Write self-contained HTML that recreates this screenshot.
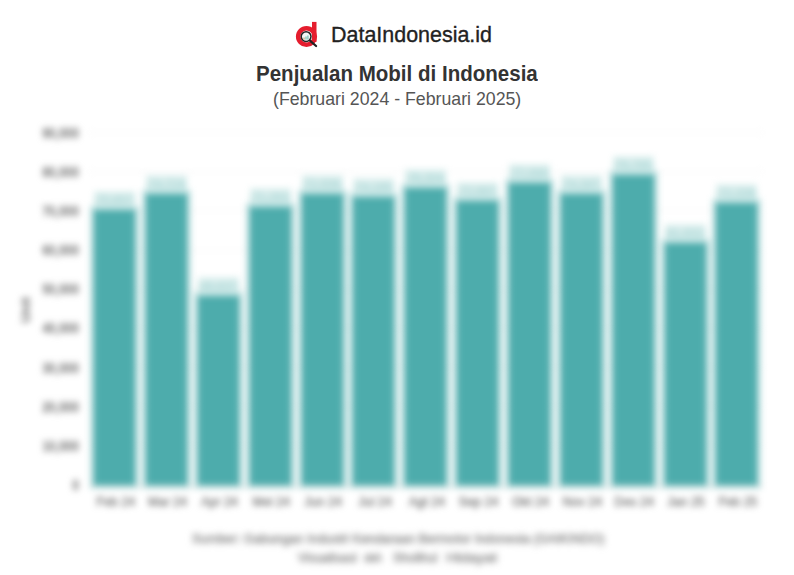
<!DOCTYPE html>
<html><head><meta charset="utf-8">
<style>
html,body{margin:0;padding:0;background:#fff;}
body{width:794px;height:575px;overflow:hidden;position:relative;font-family:"Liberation Sans",sans-serif;}
.t{position:absolute;white-space:nowrap;line-height:1;transform-origin:0 0;}
.brand{left:331.2px;top:23.5px;font-size:22.3px;color:#222;-webkit-text-stroke:0.35px #222;transform:scaleX(0.962);}
.title{left:255.8px;top:62.6px;font-size:21.2px;font-weight:bold;color:#333;transform:scaleX(0.969);}
.sub{left:272.9px;top:90px;font-size:18.5px;color:#555;transform:scaleX(0.958);}
.chart{position:absolute;left:0;top:112px;width:794px;height:463px;filter:blur(3.0px);}
.chart .in{position:absolute;left:0;top:-112px;width:794px;height:575px;}
.grid{position:absolute;left:88.8px;width:674.0px;height:1px;background:#f3f3f3;}
.base{position:absolute;left:88.8px;width:674.0px;height:1px;top:485.0px;background:#d8d8d8;}
.yl{position:absolute;left:16px;width:63px;text-align:right;font-size:14px;transform:scaleX(0.86);transform-origin:100% 50%;color:#707070;line-height:14px;font-weight:bold;filter:blur(0.8px);}
.bar{position:absolute;background:#4dacac;box-shadow:0 0 0 4px rgba(77,172,172,0.35);}
.vl{position:absolute;width:41.0px;height:19px;background:linear-gradient(#e2f2f1,#c3e4e3);text-align:center;font-size:12px;color:#a9d6d5;line-height:19px;}
.xl{position:absolute;width:60px;text-align:center;font-size:12.5px;color:#707070;-webkit-text-stroke:0.3px #707070;line-height:14px;filter:blur(0.6px);}
.ytitle{position:absolute;left:11px;top:302.5px;width:30px;text-align:center;font-size:13.5px;font-weight:bold;color:#707070;transform:rotate(-90deg);line-height:14px;filter:blur(0.6px);}
.foot{position:absolute;white-space:nowrap;font-size:12.5px;color:#888;-webkit-text-stroke:0.5px #888;line-height:14px;transform-origin:0 0;filter:blur(0.8px);}
</style></head><body>
<svg style="position:absolute;left:292px;top:18px" width="30" height="32" viewBox="0 0 30 32">
  <rect x="20" y="3.9" width="4.5" height="20" fill="#e51d2e"/>
  <circle cx="14.5" cy="18.5" r="8.3" fill="none" stroke="#e51d2e" stroke-width="4.6"/>
  <circle cx="14.1" cy="18.6" r="4.9" fill="#f2f7f6" stroke="#222" stroke-width="1.5"/>
  <path d="M12.1 21.5 v-1.9" stroke="#d8b48a" stroke-width="1.4"/>
  <path d="M14.0 21.5 v-2.9 M15.9 21.5 v-3.9" stroke="#86c6bd" stroke-width="1.4"/>
  <path d="M18.2 22.8 L24.1 28" stroke="#222" stroke-width="2.2" stroke-linecap="round"/>
</svg>
<div class="t brand">DataIndonesia.id</div>
<div class="t title">Penjualan Mobil di Indonesia</div>
<div class="t sub">(Februari 2024 - Februari 2025)</div>
<div class="chart"><div class="in">
<div class="yl" style="top:478.00px">0</div>
<div class="grid" style="top:445.33px"></div>
<div class="yl" style="top:438.83px">10,000</div>
<div class="grid" style="top:406.17px"></div>
<div class="yl" style="top:399.67px">20,000</div>
<div class="grid" style="top:367.00px"></div>
<div class="yl" style="top:360.50px">30,000</div>
<div class="grid" style="top:327.83px"></div>
<div class="yl" style="top:321.33px">40,000</div>
<div class="grid" style="top:288.67px"></div>
<div class="yl" style="top:282.17px">50,000</div>
<div class="grid" style="top:249.50px"></div>
<div class="yl" style="top:243.00px">60,000</div>
<div class="grid" style="top:210.33px"></div>
<div class="yl" style="top:203.83px">70,000</div>
<div class="grid" style="top:171.17px"></div>
<div class="yl" style="top:164.67px">80,000</div>
<div class="grid" style="top:132.00px"></div>
<div class="yl" style="top:125.50px">90,000</div>
<div class="bar" style="left:94.22px;top:210.00px;width:41.00px;height:275.00px"></div>
<div class="vl" style="left:94.22px;top:191.00px">70,657</div>
<div class="xl" style="left:85.72px;top:494.50px">Feb 24</div>
<div class="bar" style="left:146.07px;top:194.00px;width:41.00px;height:291.00px"></div>
<div class="vl" style="left:146.07px;top:175.00px">74,724</div>
<div class="xl" style="left:137.57px;top:494.50px">Mar 24</div>
<div class="bar" style="left:197.92px;top:296.00px;width:41.00px;height:189.00px"></div>
<div class="vl" style="left:197.92px;top:277.00px">48,637</div>
<div class="xl" style="left:189.42px;top:494.50px">Apr 24</div>
<div class="bar" style="left:249.76px;top:207.00px;width:41.00px;height:278.00px"></div>
<div class="vl" style="left:249.76px;top:188.00px">71,263</div>
<div class="xl" style="left:241.26px;top:494.50px">Mei 24</div>
<div class="bar" style="left:301.61px;top:193.50px;width:41.00px;height:291.50px"></div>
<div class="vl" style="left:301.61px;top:174.50px">72,936</div>
<div class="xl" style="left:293.11px;top:494.50px">Jun 24</div>
<div class="bar" style="left:353.45px;top:197.00px;width:41.00px;height:288.00px"></div>
<div class="vl" style="left:353.45px;top:178.00px">74,160</div>
<div class="xl" style="left:344.95px;top:494.50px">Jul 24</div>
<div class="bar" style="left:405.30px;top:188.00px;width:41.00px;height:297.00px"></div>
<div class="vl" style="left:405.30px;top:169.00px">76,304</div>
<div class="xl" style="left:396.80px;top:494.50px">Agt 24</div>
<div class="bar" style="left:457.15px;top:201.20px;width:41.00px;height:283.80px"></div>
<div class="vl" style="left:457.15px;top:182.20px">72,667</div>
<div class="xl" style="left:448.65px;top:494.50px">Sep 24</div>
<div class="bar" style="left:508.99px;top:182.50px;width:41.00px;height:302.50px"></div>
<div class="vl" style="left:508.99px;top:163.50px">77,069</div>
<div class="xl" style="left:500.49px;top:494.50px">Okt 24</div>
<div class="bar" style="left:560.84px;top:194.00px;width:41.00px;height:291.00px"></div>
<div class="vl" style="left:560.84px;top:175.00px">74,347</div>
<div class="xl" style="left:552.34px;top:494.50px">Nov 24</div>
<div class="bar" style="left:612.68px;top:175.30px;width:41.00px;height:309.70px"></div>
<div class="vl" style="left:612.68px;top:156.30px">79,785</div>
<div class="xl" style="left:604.18px;top:494.50px">Des 24</div>
<div class="bar" style="left:664.53px;top:243.00px;width:41.00px;height:242.00px"></div>
<div class="vl" style="left:664.53px;top:224.00px">61,932</div>
<div class="xl" style="left:656.03px;top:494.50px">Jan 25</div>
<div class="bar" style="left:716.38px;top:203.30px;width:41.00px;height:281.70px"></div>
<div class="vl" style="left:716.38px;top:184.30px">72,336</div>
<div class="xl" style="left:707.88px;top:494.50px">Feb 25</div>
<div class="base"></div>
<div class="ytitle">Unit</div>
<div class="foot" style="left:192px;top:531.5px;transform:scaleX(1.022)">Sumber: Gabungan Industri Kendaraan Bermotor Indonesia (GAIKINDO)</div>
<div class="foot" style="left:298px;top:551px">Visualisasi</div>
<div class="foot" style="left:364px;top:551px;transform:scaleX(0.75)">oleh</div>
<div class="foot" style="left:393px;top:551px">Sholihul</div>
<div class="foot" style="left:446px;top:551px;transform:scaleX(1.2)">Hidayat</div>
</div></div>
</body></html>
